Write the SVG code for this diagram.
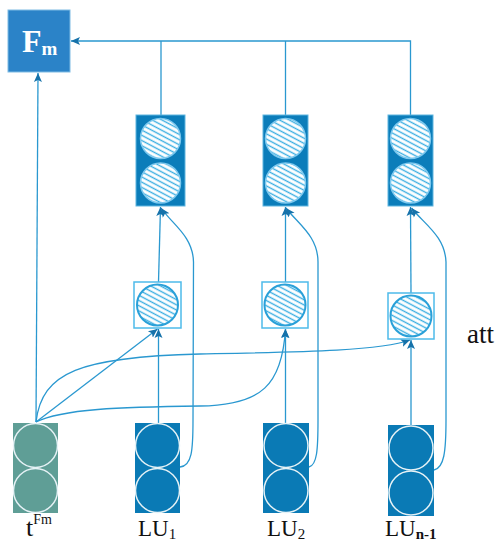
<svg xmlns="http://www.w3.org/2000/svg" width="498" height="543" viewBox="0 0 498 543">
  <style>
    .wire { fill: none; stroke: #2a98d0; stroke-width: 1.3; }
    .top-box { fill: #0b7dba; stroke: #5fb6e0; stroke-width: 1; }
    .mid-box { fill: #ffffff; stroke: #4dbbea; stroke-width: 1.5; }
    .lu-box { fill: #0a7ab5; }
    .t-box { fill: #5f9e96; }
    .ring { fill: none; stroke: #e6f2f6; stroke-width: 1.5; }
    .hatch-top { fill: url(#hatch); stroke: #7cc8ee; stroke-width: 1.5; }
    .hatch-mid { fill: url(#hatch); stroke: #2aa0d8; stroke-width: 2; }
    .label { font-family: "Liberation Serif", "Times New Roman", serif; fill: #111; }
  </style>
  <defs>
    <pattern id="hatch" patternUnits="userSpaceOnUse" width="6" height="4.6" patternTransform="rotate(28)">
      <rect width="6" height="4.6" fill="#ffffff"/>
      <line x1="0" y1="2.3" x2="6" y2="2.3" stroke="#3aaee2" stroke-width="1.4"/>
    </pattern>
    <marker id="arrow" markerUnits="userSpaceOnUse" markerWidth="10" markerHeight="10" refX="9" refY="5" orient="auto">
      <path d="M0,1 L9,5 L0,9 L2,5 Z" fill="#1672aa"/>
    </marker>
  </defs>

  <!-- connectors -->
  <g id="connectors">
    <!-- merge bus into F_m -->
    <path class="wire" d="M161,115 V41"/>
    <path class="wire" d="M285.5,115 V41"/>
    <path class="wire" d="M410.5,115 V41 H71" marker-end="url(#arrow)"/>
    <!-- t^Fm straight up to F_m -->
    <path class="wire" d="M36,422 L38,73" marker-end="url(#arrow)"/>
    <!-- t^Fm into attention units -->
    <path class="wire" d="M36,422 L157.5,329" marker-end="url(#arrow)"/>
    <path class="wire" d="M36,422 C 62,409 120,407 200,406 C 262,405 282,385 285.5,329" marker-end="url(#arrow)"/>
    <path class="wire" d="M36,422 C 42,372 80,357 200,354 C 300,352 380,351 410,340" marker-end="url(#arrow)"/>
    <!-- LU up through attention to output units -->
    <path class="wire" d="M158.5,423 V329" marker-end="url(#arrow)"/>
    <path class="wire" d="M158.5,282 L160.5,207" marker-end="url(#arrow)"/>
    <path class="wire" d="M285.5,423 V329" marker-end="url(#arrow)"/>
    <path class="wire" d="M285.5,282 V207" marker-end="url(#arrow)"/>
    <path class="wire" d="M411,425 V340" marker-end="url(#arrow)"/>
    <path class="wire" d="M411,293 L410.5,207" marker-end="url(#arrow)"/>
    <!-- LU skip paths to output units -->
    <path class="wire" d="M180,467 C 192,466 193,450 193,420 L 193.5,262 C 193,236 172,224 161,208" marker-end="url(#arrow)"/>
    <path class="wire" d="M309,467 C 317,465 318,450 318,420 L 318,262 C 318,236 298,224 286,208" marker-end="url(#arrow)"/>
    <path class="wire" d="M434,470 C 444,468 446,452 446,420 L 446,262 C 445,236 424,224 411.5,208" marker-end="url(#arrow)"/>
  </g>

  <!-- output node F_m -->
  <g id="node-fm">
    <rect x="8" y="10" width="62" height="62" fill="#2b83c8" stroke="#7fbbe4" stroke-width="1"/>
    <text x="22" y="52" font-family="Liberation Serif, serif" font-weight="bold" font-size="32" fill="#ffffff">F<tspan font-size="19" dy="3">m</tspan></text>
  </g>

  <!-- output units -->
  <g id="node-out-1">
    <rect class="top-box" x="136" y="115" width="49" height="91"/>
    <circle class="hatch-top" cx="160.5" cy="138.5" r="20"/>
    <circle class="hatch-top" cx="160.5" cy="183" r="20"/>
  </g>
  <g id="node-out-2">
    <rect class="top-box" x="263" y="115" width="45" height="91"/>
    <circle class="hatch-top" cx="285.5" cy="138.5" r="20"/>
    <circle class="hatch-top" cx="285.5" cy="183" r="20"/>
  </g>
  <g id="node-out-3">
    <rect class="top-box" x="388" y="115" width="45" height="91"/>
    <circle class="hatch-top" cx="410.5" cy="138.5" r="20"/>
    <circle class="hatch-top" cx="410.5" cy="183" r="20"/>
  </g>

  <!-- attention units -->
  <g id="node-att-1">
    <rect class="mid-box" x="134" y="282" width="47" height="46"/>
    <circle class="hatch-mid" cx="157.5" cy="305" r="20.5"/>
  </g>
  <g id="node-att-2">
    <rect class="mid-box" x="262" y="282" width="46" height="46"/>
    <circle class="hatch-mid" cx="285" cy="305" r="20.5"/>
  </g>
  <g id="node-att-3">
    <rect class="mid-box" x="388" y="293" width="46" height="46"/>
    <circle class="hatch-mid" cx="411" cy="316" r="20.5"/>
  </g>
  <text class="label" x="467" y="343" font-size="27">att</text>

  <!-- inputs -->
  <g id="node-tfm">
    <rect class="t-box" x="13" y="423" width="45" height="90"/>
    <circle class="ring" cx="35.5" cy="445.5" r="22"/>
    <circle class="ring" cx="35.5" cy="490.5" r="22"/>
    <text class="label" x="26" y="536" font-size="26">t<tspan font-size="14" dy="-12">Fm</tspan></text>
  </g>
  <g id="node-lu-1">
    <rect class="lu-box" x="135" y="423" width="45" height="90"/>
    <circle class="ring" cx="157.5" cy="445.5" r="22"/>
    <circle class="ring" cx="157.5" cy="490.5" r="22"/>
    <text class="label" x="138" y="536" font-size="23">LU<tspan font-size="15" dy="3">1</tspan></text>
  </g>
  <g id="node-lu-2">
    <rect class="lu-box" x="263" y="423" width="46" height="90"/>
    <circle class="ring" cx="286" cy="445.5" r="22"/>
    <circle class="ring" cx="286" cy="490.5" r="22"/>
    <text class="label" x="267" y="536" font-size="23">LU<tspan font-size="15" dy="3">2</tspan></text>
  </g>
  <g id="node-lu-3">
    <rect class="lu-box" x="388" y="425" width="46" height="91"/>
    <circle class="ring" cx="411" cy="448" r="22"/>
    <circle class="ring" cx="411" cy="493" r="22"/>
    <text class="label" x="385" y="536" font-size="23">LU<tspan font-size="15" dy="3" font-weight="bold">n-1</tspan></text>
  </g>
</svg>
